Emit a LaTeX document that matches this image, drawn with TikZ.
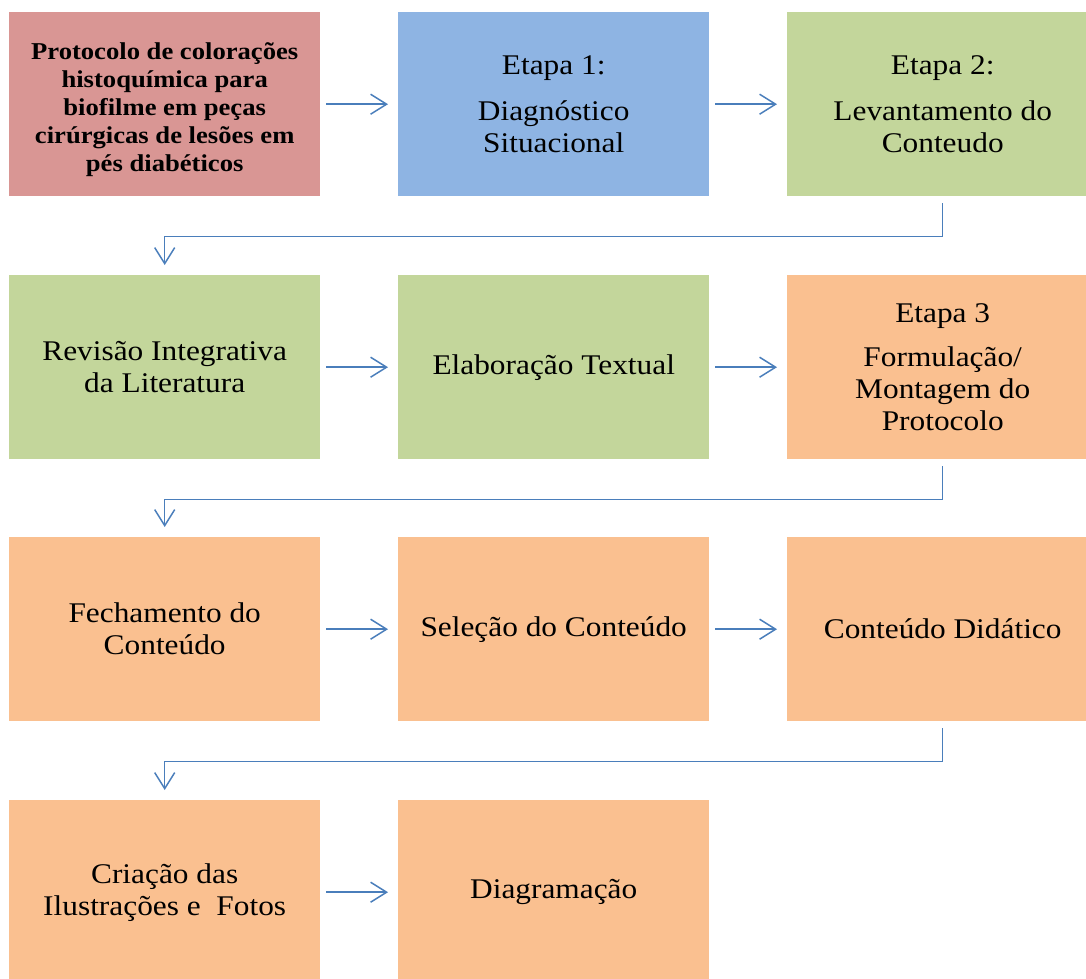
\documentclass[tikz,border=0pt]{standalone}
\usepackage{fontspec}
\setmainfont{Liberation Serif}[FakeStretch=1.1]
\usetikzlibrary{arrows.meta}
\definecolor{cpink}{HTML}{D99694}
\definecolor{cblue}{HTML}{8EB4E3}
\definecolor{cgreen}{HTML}{C3D69B}
\definecolor{corange}{HTML}{FAC090}
\definecolor{cline}{HTML}{4A7EBB}
\tikzset{
  box/.style={rectangle, draw=none, minimum width=311pt, minimum height=184pt,
    inner sep=0pt, align=center, font=\fontsize{28.5}{32}\selectfont, anchor=north west},
  arr/.style={draw=cline, line width=1.5pt, -{Straight Barb[length=16pt,width=20pt]}},
}
\begin{document}
\begin{tikzpicture}[x=1pt,y=-1pt]
\useasboundingbox (0,0) rectangle (1086,978);
\clip (0,0) rectangle (1086,978);
% row 1
\node[box, fill=cpink, font=\bfseries\fontsize{24.2}{28}\selectfont] (a1) at (9,12)
  {\raisebox{-12pt}[0pt][0pt]{\begin{tabular}{@{}c@{}}Protocolo de colorações\\ histoquímica para\\ biofilme em peças\\ cirúrgicas de lesões em\\ pés diabéticos\end{tabular}}};
\node[box, fill=cblue] (a2) at (398,12) {Etapa 1:\\[14pt]Diagnóstico\\Situacional};
\node[box, fill=cgreen] (a3) at (787,12) {Etapa 2:\\[14pt]Levantamento do\\Conteudo};
% row 2
\node[box, fill=cgreen] (b1) at (9,275) {Revisão Integrativa\\da Literatura};
\node[box, fill=cgreen] (b2) at (398,275) {Elaboração Textual};
\node[box, fill=corange] (b3) at (787,275) {Etapa 3\\[12pt]Formulação/\\Montagem do\\Protocolo};
% row 3
\node[box, fill=corange] (c1) at (9,537) {Fechamento do\\Conteúdo};
\node[box, fill=corange] (c2) at (398,537) {Seleção do Conteúdo};
\node[box, fill=corange] (c3) at (787,537) {Conteúdo Didático};
% row 4
\node[box, fill=corange] (d1) at (9,800) {Criação das\\Ilustrações e\ \ Fotos};
\node[box, fill=corange] (d2) at (398,800) {Diagramação};
% horizontal arrows
\draw[arr] ([xshift=6pt]a1.east) -- ([xshift=-10pt]a2.west);
\draw[arr] ([xshift=6pt]a2.east) -- ([xshift=-10pt]a3.west);
\draw[arr] ([xshift=6pt]b1.east) -- ([xshift=-10pt]b2.west);
\draw[arr] ([xshift=6pt]b2.east) -- ([xshift=-10pt]b3.west);
\draw[arr] ([xshift=6pt]c1.east) -- ([xshift=-10pt]c2.west);
\draw[arr] ([xshift=6pt]c2.east) -- ([xshift=-10pt]c3.west);
\draw[arr] ([xshift=6pt]d1.east) -- ([xshift=-10pt]d2.west);
% elbow connectors
\draw[arr] ([yshift=-7pt]a3.south) -- ++(0,33) -| ([yshift=10pt]b1.north);
\draw[arr] ([yshift=-7pt]b3.south) -- ++(0,33) -| ([yshift=10pt]c1.north);
\draw[arr] ([yshift=-7pt]c3.south) -- ++(0,33) -| ([yshift=10pt]d1.north);
\end{tikzpicture}
\end{document}
